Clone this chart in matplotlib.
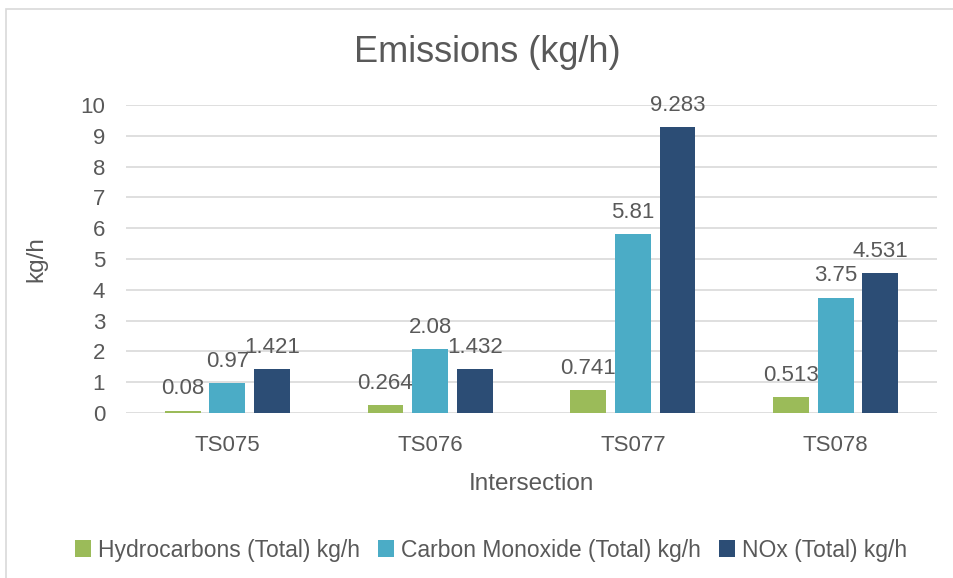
import matplotlib
matplotlib.use('Agg')
import numpy as np
import matplotlib.pyplot as plt
from matplotlib.patches import Rectangle

# Data
categories = ['TS075', 'TS076', 'TS077', 'TS078']
series_names = ['Hydrocarbons (Total) kg/h', 'Carbon Monoxide (Total) kg/h', 'NOx (Total) kg/h']
hydrocarbons = [0.08, 0.264, 0.741, 0.513]
carbon_monoxide = [0.97, 2.08, 5.81, 3.75]
nox = [1.421, 1.432, 9.283, 4.531]
series_colors = ['#9BBB59', '#4BACC6', '#2C4D75']

text_color = '#595959'
grid_color = '#D9D9D9'

plt.rcParams['font.family'] = ['Liberation Sans', 'DejaVu Sans']

fig = plt.figure(figsize=(9.54, 5.78), dpi=100)
ax = fig.add_axes([126 / 954, 1 - 413 / 578, 811 / 954, 308 / 578])

x = np.arange(len(categories))
bar_width = 0.1765
step = 0.2206
all_series = [hydrocarbons, carbon_monoxide, nox]

for i, (vals, name, col) in enumerate(zip(all_series, series_names, series_colors)):
    bars = ax.bar(x + (i - 1) * step, vals, width=bar_width, color=col, label=name, zorder=3)
    ax.bar_label(bars, labels=[f'{v:g}' for v in vals], padding=8, fontsize=16, color=text_color, zorder=4)

ax.set_xlim(-0.5, len(categories) - 0.5)
ax.set_ylim(0, 10)
ax.set_yticks(range(0, 11))
ax.set_xticks(x)
ax.set_xticklabels(categories)
ax.tick_params(axis='both', length=0, labelsize=16, labelcolor=text_color)
ax.tick_params(axis='y', pad=15)
ax.tick_params(axis='x', pad=16)

ax.grid(axis='y', color=grid_color, linewidth=1.2, zorder=0)
for s in ax.spines.values():
    s.set_visible(False)

ax.set_xlabel('Intersection', fontsize=17.5, color=text_color, labelpad=12)
ax.set_ylabel('kg/h', fontsize=17.5, color=text_color, labelpad=24)

fig.text(487 / 954, 1 - 52 / 578, 'Emissions (kg/h)', fontsize=26, color=text_color,
         ha='center', va='center')

ax.legend(loc='center', bbox_to_anchor=(491 / 954, 1 - 550 / 578), bbox_transform=fig.transFigure,
          ncol=3, frameon=False, fontsize=16.5, labelcolor=text_color,
          handlelength=0.7, handleheight=0.7, handletextpad=0.3, columnspacing=0.8)

# outer chart border (left and top visible)
fig.patches.append(Rectangle((6 / 954, -0.1), 1.2, 1.1 - 9 / 578, transform=fig.transFigure,
                             fill=False, edgecolor=grid_color, linewidth=1.2))

fig.savefig('out.png', dpi=100)
